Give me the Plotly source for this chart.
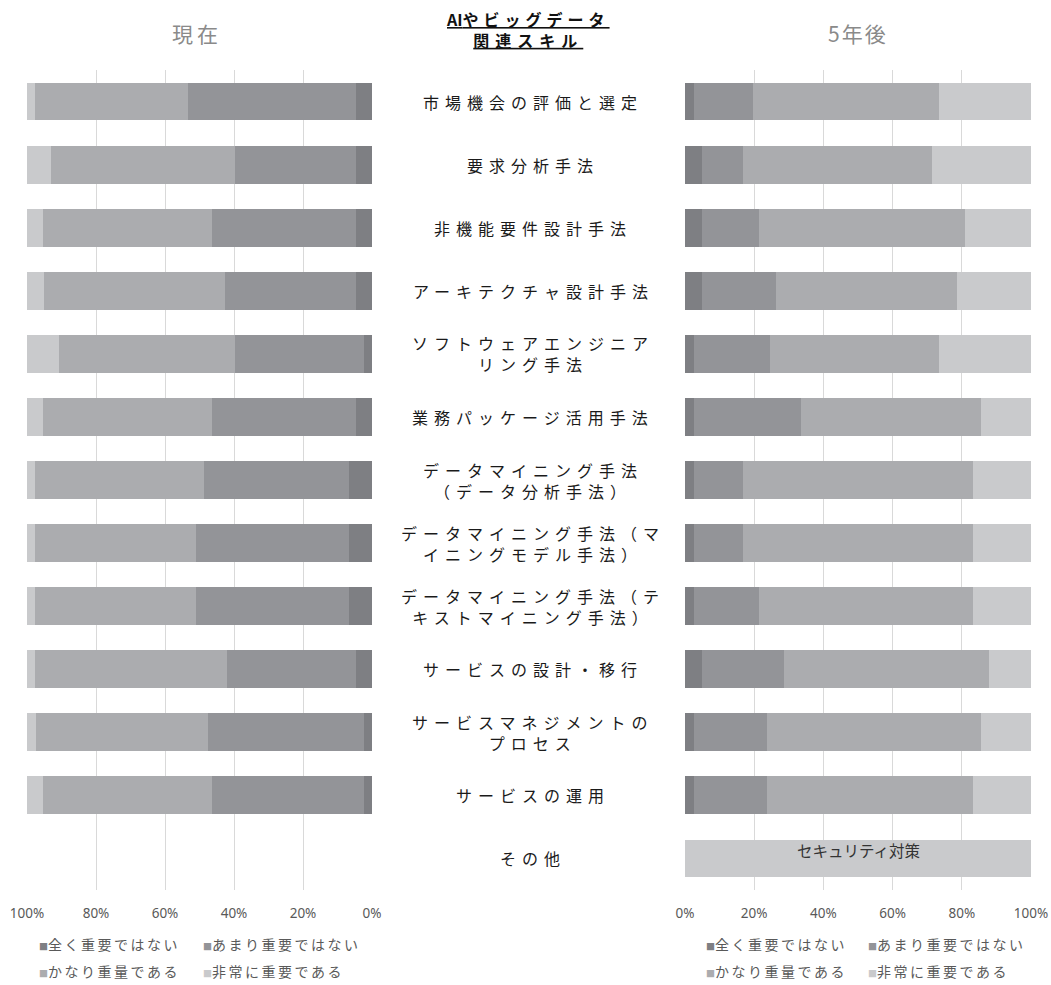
import plotly.graph_objects as go

# Skill categories (top to bottom) and their displayed labels
categories = [
    "市場機会の評価と選定", "要求分析手法", "非機能要件設計手法", "アーキテクチャ設計手法",
    "ソフトウェアエンジニアリング手法", "業務パッケージ活用手法",
    "データマイニング手法（データ分析手法）", "データマイニング手法（マイニングモデル手法）",
    "データマイニング手法（テキストマイニング手法）", "サービスの設計・移行",
    "サービスマネジメントのプロセス", "サービスの運用", "その他",
]
label_lines = [
    ["市場機会の評価と選定"], ["要求分析手法"], ["非機能要件設計手法"], ["アーキテクチャ設計手法"],
    ["ソフトウェアエンジニア", "リング手法"], ["業務パッケージ活用手法"],
    ["データマイニング手法", "（データ分析手法）"], ["データマイニング手法（マ", "イニングモデル手法）"],
    ["データマイニング手法（テ", "キストマイニング手法）"], ["サービスの設計・移行"],
    ["サービスマネジメントの", "プロセス"], ["サービスの運用"], ["その他"],
]

series_names = ["全く重要ではない", "あまり重要ではない", "かなり重量である", "非常に重要である"]

# Current (%) per series
now_none = [4.7, 4.7, 4.7, 4.7, 2.4, 4.7, 6.7, 6.7, 6.7, 4.7, 2.4, 2.4, 0]
now_low = [48.7, 34.9, 41.6, 37.9, 37.2, 41.6, 42.0, 44.3, 44.3, 37.3, 45.1, 43.9, 0]
now_high = [44.4, 53.4, 49.1, 52.4, 51.0, 49.1, 49.0, 46.7, 46.7, 55.7, 49.9, 49.1, 0]
now_very = [2.2, 7.0, 4.6, 5.0, 9.4, 4.6, 2.3, 2.3, 2.3, 2.3, 2.6, 4.6, 0]

# Five years later (%) per series
fut_none = [2.6, 4.9, 4.9, 4.9, 2.6, 2.6, 2.6, 2.6, 2.6, 4.9, 2.6, 2.6, 0]
fut_low = [17.0, 11.9, 16.6, 21.3, 22.0, 30.8, 14.2, 14.2, 18.9, 23.7, 21.2, 21.2, 0]
fut_high = [53.8, 54.6, 59.4, 52.3, 48.8, 52.2, 66.4, 66.4, 61.7, 59.3, 61.8, 59.4, 0]
fut_very = [26.6, 28.6, 19.1, 21.5, 26.6, 14.4, 16.8, 16.8, 16.8, 12.1, 14.4, 16.8, 100]

other_note = "セキュリティ対策"
tick_vals = [0, 20, 40, 60, 80, 100]
tick_text = ["0%", "20%", "40%", "60%", "80%", "100%"]

colors = ["#7e7f83", "#939498", "#abacaf", "#c9cacc"]

W, H = 1051, 985
JP = "Noto Sans CJK JP"

fig = go.Figure()
for name, vals, col in zip(series_names, [now_none, now_low, now_high, now_very], colors):
    fig.add_trace(go.Bar(y=categories, x=vals, name=name, orientation="h",
                         marker=dict(color=col, line=dict(width=0)),
                         xaxis="x", yaxis="y", showlegend=False))
for name, vals, col in zip(series_names, [fut_none, fut_low, fut_high, fut_very], colors):
    fig.add_trace(go.Bar(y=categories, x=vals, name=name, orientation="h",
                         marker=dict(color=col, line=dict(width=0)),
                         xaxis="x2", yaxis="y2", showlegend=False))

ydom = [1 - 890 / H, 1 - 70 / H]
axis_common = dict(tickvals=tick_vals, ticktext=tick_text, showgrid=True, gridcolor="#d9d9d9",
                   gridwidth=1, zeroline=False, showline=False, ticks="", automargin=False,
                   tickfont=dict(family="Noto Sans", size=13.5, color="#595959"),
                   ticklabelstandoff=13, fixedrange=True)
yaxis_common = dict(domain=ydom, autorange="reversed", showticklabels=False, showgrid=False,
                    zeroline=False, showline=False, automargin=False, categoryorder="array",
                    categoryarray=categories)
fig.update_layout(
    width=W, height=H,
    margin=dict(l=0, r=0, t=0, b=0, autoexpand=False),
    paper_bgcolor="white", plot_bgcolor="white",
    showlegend=False,
    barmode="stack", bargap=0.4,
    xaxis=dict(domain=[27 / W, 372 / W], range=[100, 0], anchor="y", **axis_common),
    xaxis2=dict(domain=[685 / W, 1031 / W], range=[0, 100], anchor="y2", **axis_common),
    yaxis=dict(anchor="x", **yaxis_common),
    yaxis2=dict(anchor="x2", **yaxis_common),
)

def spaced(txt, px):
    return f'<span style="letter-spacing:{px}px">{txt}</span>'

# Skill labels between the two panels
for cat, lines in zip(categories, label_lines):
    fig.add_annotation(xref="paper", yref="y", x=533 / W, y=cat, xanchor="center", yanchor="middle",
                       text="<br>".join(spaced(l, 6) for l in lines), showarrow=False,
                       font=dict(family=JP, size=16, color="#1a1a1a"))

# Note on the "other" bar of the future panel
fig.add_annotation(xref="x2", yref="y2", x=50, y="その他", text=other_note, showarrow=False,
                   yshift=8, font=dict(family=JP, size=15.5, color="#333333"))

# Panel titles
fig.add_annotation(xref="paper", yref="paper", x=197 / W, y=1 - 33 / H, text=spaced("現在", 4),
                   showarrow=False, xanchor="center", yanchor="middle",
                   font=dict(family=JP, size=21, color="#8a8a8a"))
fig.add_annotation(xref="paper", yref="paper", x=858 / W, y=1 - 33 / H, text=spaced("5年後", 2),
                   showarrow=False, xanchor="center", yanchor="middle",
                   font=dict(family=JP, size=21, color="#8a8a8a"))
fig.add_annotation(xref="paper", yref="paper", x=528 / W, y=1 - 29 / H,
                   text="AI" + spaced("やビッグデータ", 5) + "<br>" + spaced("関連スキル", 6),
                   showarrow=False, xanchor="center", yanchor="middle",
                   font=dict(family=JP, size=16, color="#111111", weight="bold", lineposition="under"))

# Legends under each panel (2 x 2 grid)
def legend_item(x_px, y_px, name, col):
    fig.add_annotation(xref="paper", yref="paper", x=x_px / W, y=1 - y_px / H,
                       xanchor="left", yanchor="middle", showarrow=False,
                       text=f'<span style="font-size:9px;color:{col}">■</span>' + spaced(name, 2.5),
                       font=dict(family=JP, size=14, color="#595959"))

for base_x, col2_x in [(37, 201), (704, 866)]:
    legend_item(base_x, 944, series_names[0], colors[0])
    legend_item(col2_x, 944, series_names[1], colors[1])
    legend_item(base_x, 971, series_names[2], colors[2])
    legend_item(col2_x, 971, series_names[3], colors[3])

fig.write_html("out.html")
